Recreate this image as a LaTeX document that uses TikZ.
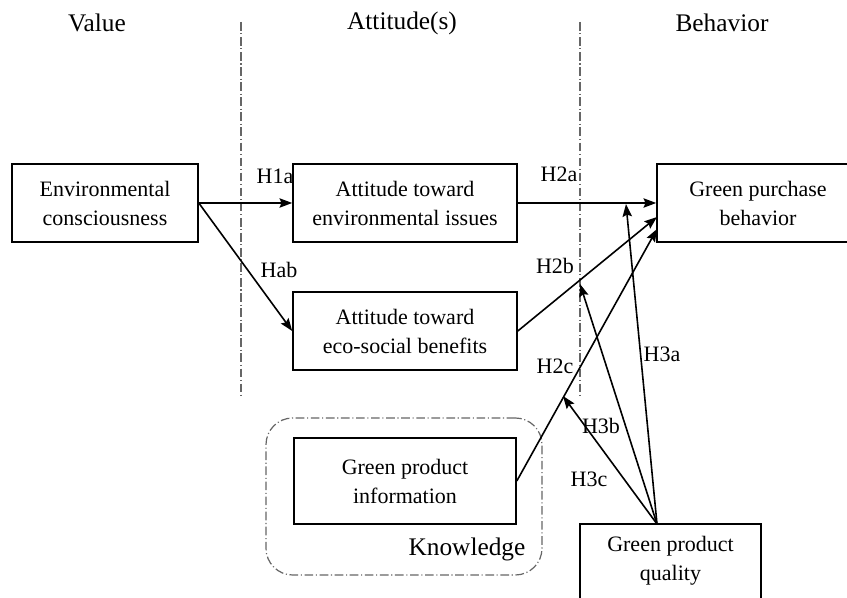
\documentclass[tikz,border=0pt]{standalone}
\usepackage{fontspec}
\setmainfont{Liberation Serif}
\usetikzlibrary{arrows.meta}
\begin{document}
\begin{tikzpicture}[x=0.75pt,y=-0.75pt,
  box/.style={draw,line width=1.2pt,align=center,inner sep=0pt,
    font=\fontsize{16.5}{21.75}\selectfont},
  title/.style={font=\fontsize{19}{23}\selectfont,inner sep=0pt},
  hlab/.style={font=\fontsize{16.5}{20}\selectfont,inner sep=0pt},
  conn/.style={line width=1.2pt,-{Stealth[length=9.5pt,width=7pt,inset=1.5pt]}},
  dashdot/.style={draw=black!60,line width=0.9pt,dash pattern=on 6.5pt off 2pt on 0.8pt off 2pt}]
\useasboundingbox (0,0) rectangle (847,598);
\clip (0,0) rectangle (847,598);
\fill[white] (0,0) rectangle (847,598);

% column titles
\node[title] (tval) at (97,23) {Value};
\node[title] (tatt) at (402,23) {Attitude(s)};
\node[title] (tbeh) at (722,23) {Behavior};

% separators
\draw[dashdot] (241,22) -- (241,396);
\draw[dashdot] (580,22) -- (580,396);

% knowledge group
\node[dashdot,rounded corners=20pt,minimum width=207pt,minimum height=117.75pt] (know) at (404,496.5) {};
\node[title] (klab) at (467,549) {Knowledge};

% boxes
\node[box,minimum width=139.5pt,minimum height=58.5pt] (env) at (105,203) {Environmental\\consciousness};
\node[box,minimum width=168pt,minimum height=58.5pt] (ae) at (405,203) {Attitude toward\\environmental issues};
\node[box,minimum width=168pt,minimum height=58.5pt] (ab) at (405,331) {Attitude toward\\eco-social benefits};
\node[box,minimum width=166.5pt,minimum height=64.5pt] (gpi) at (405,481) {Green product\\information};
\node[box,minimum width=151.5pt,minimum height=58.5pt] (gpb) at (758,203) {Green purchase\\behavior};
\node[box,minimum width=135.75pt,minimum height=80pt] (gpq) at (670.5,577.5) {Green product\\quality\\ \strut};

% connector points
\coordinate (gb1) at (657,217);
\coordinate (gb2) at (657,229);
\coordinate (qt) at (657,524);
\coordinate (p3a) at (626,204);
\coordinate (p3b) at (580,284);
\coordinate (p3c) at (563,396);

% connectors
\draw[conn] (env.east) -- (ae.west);
\draw[conn] (env.east) -- (ab.west);
\draw[conn] (ae.east) -- (gpb.west);
\draw[conn] (ab.east) -- (gb1);
\draw[conn] (gpi.east) -- (gb2);
\draw[conn] (qt) -- (p3a);
\draw[conn] (qt) -- (p3b);
\draw[conn] (qt) -- (p3c);

% labels
\node[hlab] (l1a) at (275,176) {H1a};
\node[hlab] (lab) at (279,270) {Hab};
\node[hlab] (l2a) at (559,174) {H2a};
\node[hlab] (l2b) at (555,266) {H2b};
\node[hlab] (l2c) at (555,366) {H2c};
\node[hlab] (l3a) at (662,354) {H3a};
\node[hlab] (l3b) at (601,426) {H3b};
\node[hlab] (l3c) at (589,479) {H3c};
\end{tikzpicture}
\end{document}
